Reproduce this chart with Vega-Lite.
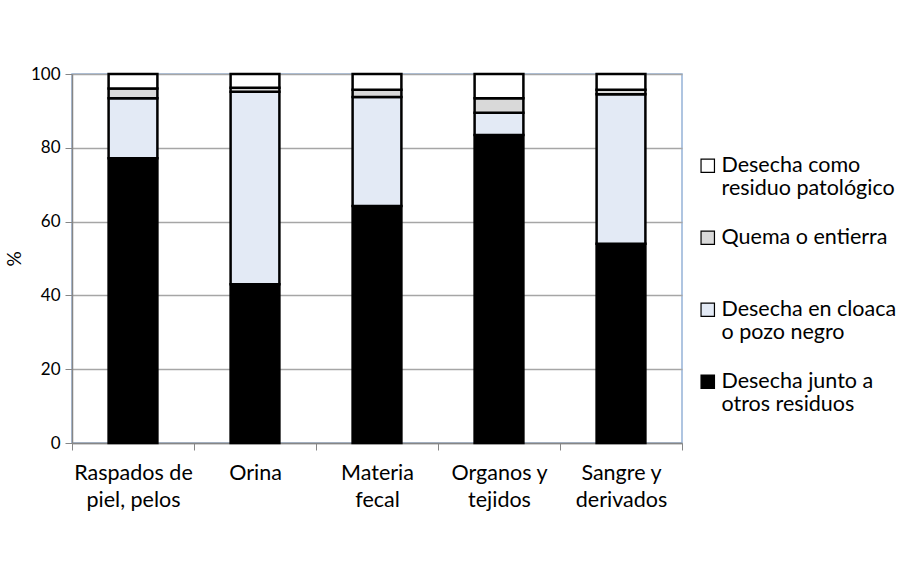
{
  "$schema": "https://vega.github.io/schema/vega-lite/v6.json",
  "width": 610,
  "height": 369,
  "autosize": {"type": "none"},
  "padding": {"left": 72, "top": 74, "right": 228, "bottom": 120},
  "background": "white",
  "config": {
    "font": "Lato",
    "view": {"stroke": "#95b3d7", "strokeWidth": 1.5},
    "axis": {"labelFont": "Lato", "titleFont": "Lato", "labelFontSize": 17, "labelColor": "#000000", "titleColor": "#000000"},
    "legend": {"labelFont": "Lato", "labelFontSize": 21.5, "labelColor": "#000000"}
  },
  "data": {
    "values": [
      {"cat": "Raspados de piel, pelos", "tipo": "Desecha junto a otros residuos", "k": 1, "v": 77.2},
      {"cat": "Raspados de piel, pelos", "tipo": "Desecha en cloaca o pozo negro", "k": 2, "v": 16.2},
      {"cat": "Raspados de piel, pelos", "tipo": "Quema o entierra", "k": 3, "v": 2.7},
      {"cat": "Raspados de piel, pelos", "tipo": "Desecha como residuo patológico", "k": 4, "v": 3.9},
      {"cat": "Orina", "tipo": "Desecha junto a otros residuos", "k": 1, "v": 43.0},
      {"cat": "Orina", "tipo": "Desecha en cloaca o pozo negro", "k": 2, "v": 52.2},
      {"cat": "Orina", "tipo": "Quema o entierra", "k": 3, "v": 1.1},
      {"cat": "Orina", "tipo": "Desecha como residuo patológico", "k": 4, "v": 3.7},
      {"cat": "Materia fecal", "tipo": "Desecha junto a otros residuos", "k": 1, "v": 64.2},
      {"cat": "Materia fecal", "tipo": "Desecha en cloaca o pozo negro", "k": 2, "v": 29.6},
      {"cat": "Materia fecal", "tipo": "Quema o entierra", "k": 3, "v": 1.9},
      {"cat": "Materia fecal", "tipo": "Desecha como residuo patológico", "k": 4, "v": 4.3},
      {"cat": "Organos y tejidos", "tipo": "Desecha junto a otros residuos", "k": 1, "v": 83.5},
      {"cat": "Organos y tejidos", "tipo": "Desecha en cloaca o pozo negro", "k": 2, "v": 6.0},
      {"cat": "Organos y tejidos", "tipo": "Quema o entierra", "k": 3, "v": 3.9},
      {"cat": "Organos y tejidos", "tipo": "Desecha como residuo patológico", "k": 4, "v": 6.6},
      {"cat": "Sangre y derivados", "tipo": "Desecha junto a otros residuos", "k": 1, "v": 54.0},
      {"cat": "Sangre y derivados", "tipo": "Desecha en cloaca o pozo negro", "k": 2, "v": 40.5},
      {"cat": "Sangre y derivados", "tipo": "Quema o entierra", "k": 3, "v": 1.2},
      {"cat": "Sangre y derivados", "tipo": "Desecha como residuo patológico", "k": 4, "v": 4.3}
    ]
  },
  "mark": {"type": "bar", "stroke": "#000000", "strokeWidth": 2.5, "width": {"band": 0.4}},
  "encoding": {
    "x": {
      "field": "cat", "type": "nominal", "sort": null, "title": null,
      "scale": {"paddingInner": 0, "paddingOuter": 0},
      "axis": {
        "labelAngle": 0, "labelPadding": 12, "labelLineHeight": 27, "labelFontSize": 21.5,
        "labelExpr": "datum.value == 'Raspados de piel, pelos' ? ['Raspados de', 'piel, pelos'] : datum.value == 'Materia fecal' ? ['Materia', 'fecal'] : datum.value == 'Organos y tejidos' ? ['Organos y', 'tejidos'] : datum.value == 'Sangre y derivados' ? ['Sangre y', 'derivados'] : datum.value",
        "bandPosition": 0, "tickBand": "extent", "ticks": true, "tickSize": 7, "tickColor": "#868686",
        "domainColor": "#868686", "domainWidth": 1.5, "grid": false
      }
    },
    "y": {
      "field": "v", "type": "quantitative", "stack": "zero",
      "scale": {"domain": [0, 100]},
      "title": "%",
      "axis": {
        "values": [0, 20, 40, 60, 80, 100], "tickSize": 7, "tickColor": "#868686",
        "domainColor": "#868686", "domainWidth": 1.5, "gridColor": "#a6a6a6", "gridWidth": 1.5,
        "labelPadding": 5, "titleFontSize": 19, "titleFontWeight": "normal", "titlePadding": 6
      }
    },
    "color": {
      "field": "tipo", "type": "nominal",
      "scale": {
        "domain": ["Desecha como residuo patológico", "Quema o entierra", "Desecha en cloaca o pozo negro", "Desecha junto a otros residuos"],
        "range": ["#ffffff", "#d9d9d9", "#e3eaf5", "#000000"]
      },
      "legend": {
        "title": null, "orient": "none", "legendX": 625, "legendY": 81,
        "symbolType": "square", "symbolSize": 180, "symbolStrokeColor": "#000000", "symbolStrokeWidth": 1.2,
        "labelExpr": "datum.value == 'Desecha como residuo patológico' ? ['Desecha como', 'residuo patológico'] : datum.value == 'Desecha en cloaca o pozo negro' ? ['Desecha en cloaca', 'o pozo negro'] : datum.value == 'Desecha junto a otros residuos' ? ['Desecha junto a', 'otros residuos'] : ['Quema o entierra', ' ']",
        "labelBaseline": "middle", "labelLineHeight": 27, "labelOffset": 3, "rowPadding": 26, "labelLimit": 300
      }
    },
    "order": {"field": "k", "type": "quantitative"}
  }
}
